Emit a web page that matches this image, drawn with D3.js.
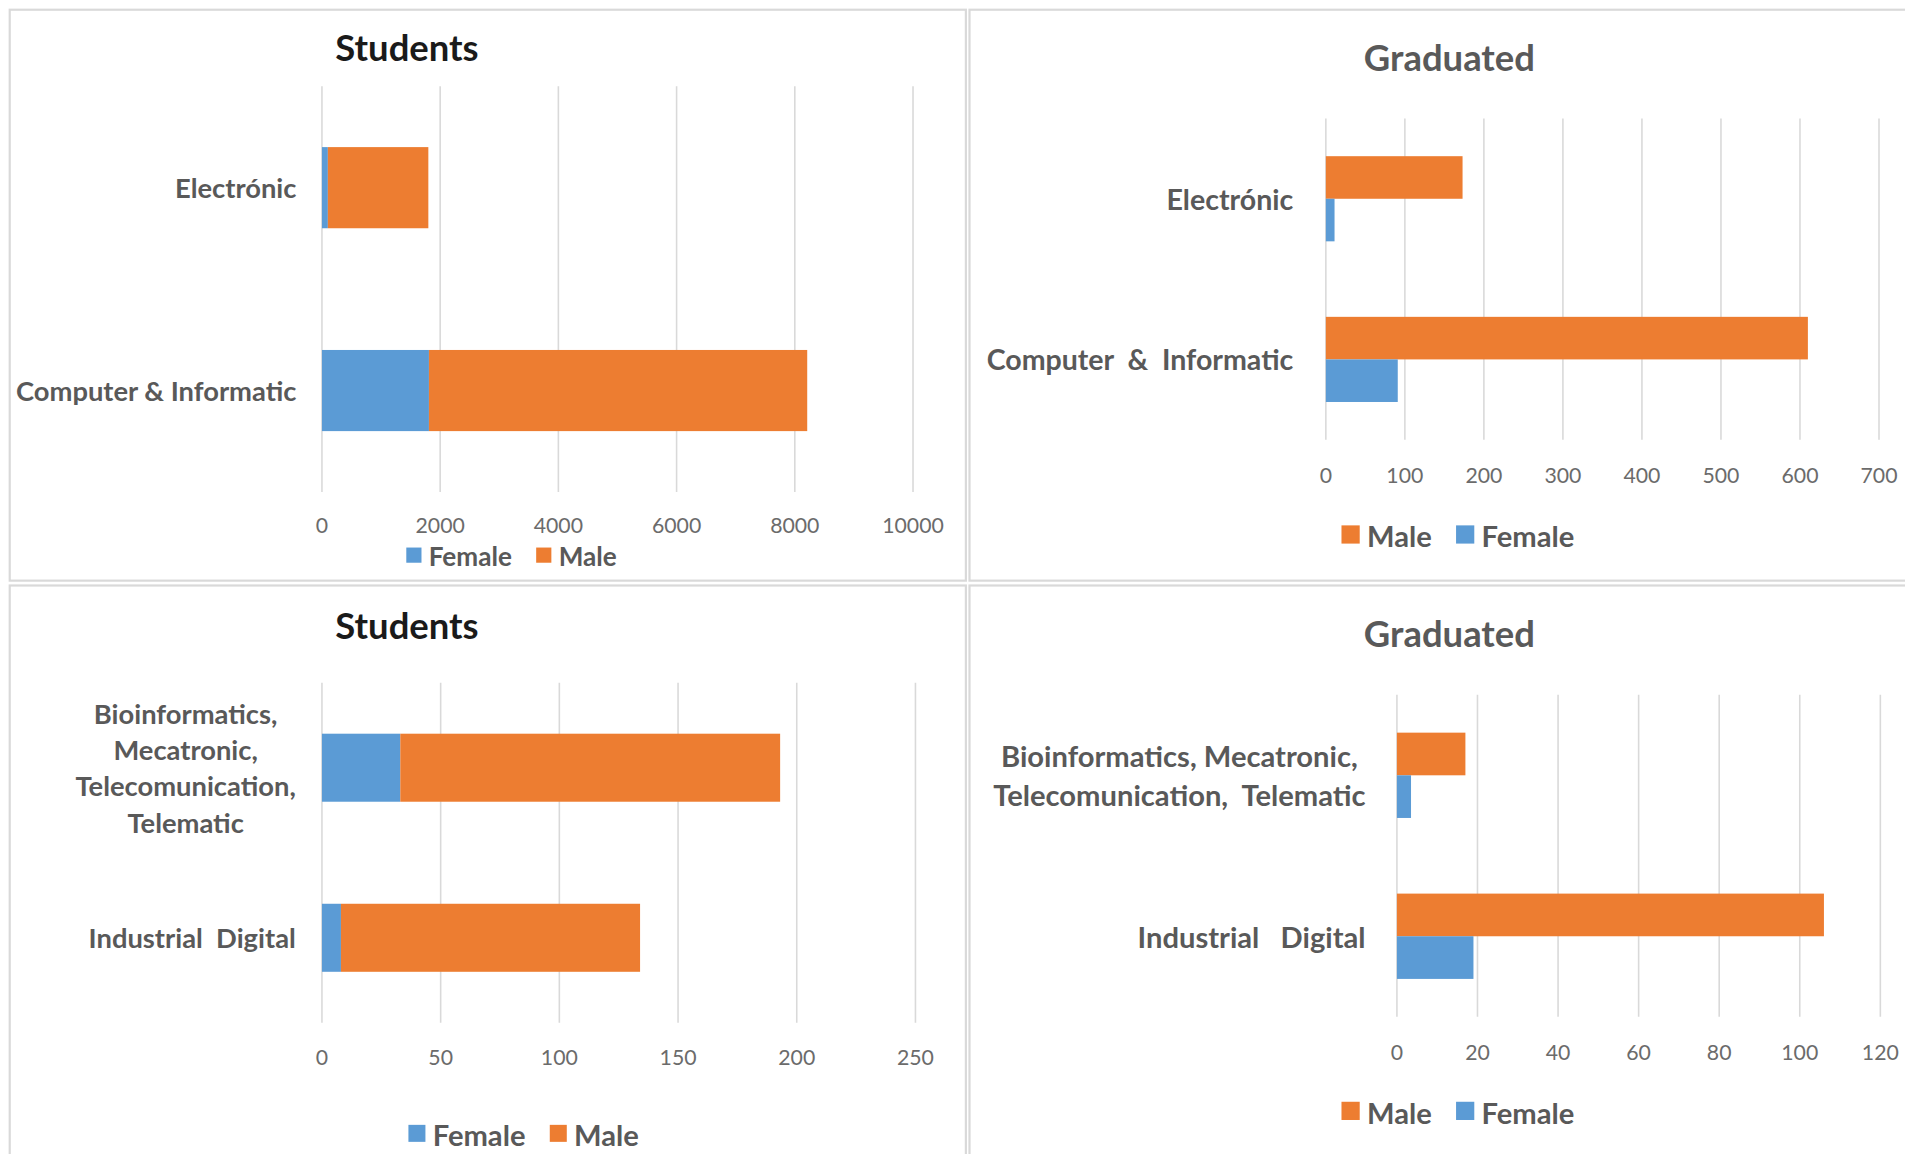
<!DOCTYPE html>
<html><head><meta charset="utf-8">
<script src="https://cdn.jsdelivr.net/npm/d3@7"></script>
<style>
html,body{margin:0;padding:0;background:#fff;overflow:hidden}
svg{display:block}
text{font-family:Lato,"Open Sans",sans-serif;white-space:pre}
</style></head><body>
<svg id="chart"></svg>
<script>
// ---------- data ----------
const cats1 = ["Electrónic", "Computer & Informatic"];
const students1Female = [100, 1810];
const students1Male = [1700, 6400];
const ticks1 = [0, 2000, 4000, 6000, 8000, 10000];

const cats2 = ["Electrónic", "Computer  &  Informatic"];
const grad1Male = [173, 610];
const grad1Female = [11, 91];
const ticks2 = [0, 100, 200, 300, 400, 500, 600, 700];

const cats3 = ["Bioinformatics,\nMecatronic,\nTelecomunication,\nTelematic", "Industrial  Digital"];
const students2Female = [33, 8];
const students2Male = [160, 126];
const ticks3 = [0, 50, 100, 150, 200, 250];

const cats4 = ["Bioinformatics, Mecatronic,\nTelecomunication,  Telematic", "Industrial   Digital"];
const grad2Male = [17, 106];
const grad2Female = [3.5, 19];
const ticks4 = [0, 20, 40, 60, 80, 100, 120];

const stackedOrder = ["Female", "Male"];
const groupedOrder = ["Male", "Female"];

// ---------- style ----------
const COLORS = {Female: "#5B9BD5", Male: "#ED7D31"};
const TEXT = "#595959";
const GRID = "#D9D9D9";

const svg = d3.select("#chart")
  .attr("width", 1905).attr("height", 1154)
  .attr("viewBox", "0 0 1568 950")
  .attr("preserveAspectRatio", "none");

// panel frames
const frames = [[8, 8, 787, 470], [798, 8, 790, 470], [8, 482, 787, 480], [798, 482, 790, 480]];
svg.selectAll("rect.frame").data(frames).join("rect")
  .attr("class", "frame")
  .attr("x", d => d[0]).attr("y", d => d[1]).attr("width", d => d[2]).attr("height", d => d[3])
  .attr("fill", "#fff").attr("stroke", GRID).attr("stroke-width", 1.8);

function drawPanel(cfg) {
  const g = svg.append("g");
  const x = d3.scaleLinear().domain([0, cfg.ticks[cfg.ticks.length - 1]]).range([cfg.x0, cfg.x1]);
  const y = d3.scaleBand().domain(cfg.cats).range([cfg.top, cfg.bottom])
    .paddingInner(cfg.padIn).paddingOuter(cfg.padOut);

  // gridlines
  g.append("g").selectAll("line").data(cfg.ticks).join("line")
    .attr("x1", d => x(d)).attr("x2", d => x(d))
    .attr("y1", cfg.top).attr("y2", cfg.bottom)
    .attr("stroke", GRID).attr("stroke-width", 1.3);

  // tick labels
  g.append("g").selectAll("text").data(cfg.ticks).join("text")
    .attr("x", d => x(d)).attr("y", cfg.bottom + cfg.tickOff)
    .attr("text-anchor", "middle").attr("dominant-baseline", "central")
    .attr("font-size", 17.5).attr("fill", "#6b6b6b")
    .text(d => d);

  // bars
  if (cfg.type === "stacked") {
    const rows = cfg.cats.map((c, i) => {
      const o = {cat: c};
      cfg.order.forEach(k => o[k] = cfg.values[k][i]);
      return o;
    });
    const stack = d3.stack().keys(cfg.order)(rows);
    g.append("g").selectAll("g").data(stack).join("g")
      .attr("fill", s => COLORS[s.key])
      .selectAll("rect").data(s => s).join("rect")
      .attr("x", d => x(d[0])).attr("width", d => x(d[1]) - x(d[0]))
      .attr("y", d => y(d.data.cat)).attr("height", y.bandwidth());
  } else {
    const y1 = d3.scaleBand().domain(cfg.order).range([0, y.bandwidth()]);
    const rows = [];
    cfg.cats.forEach((c, i) => cfg.order.forEach(k => rows.push({cat: c, key: k, v: cfg.values[k][i]})));
    g.append("g").selectAll("rect").data(rows).join("rect")
      .attr("fill", d => COLORS[d.key])
      .attr("x", x(0)).attr("width", d => x(d.v) - x(0))
      .attr("y", d => y(d.cat) + y1(d.key)).attr("height", y1.bandwidth());
  }

  // category labels
  cfg.cats.forEach(c => {
    const lines = c.split("\n");
    const cy = y(c) + y.bandwidth() / 2;
    const lg = g.append("g");
    const ts = lines.map((ln, i) => lg.append("text")
      .attr("y", cy + (i - (lines.length - 1) / 2) * cfg.lh)
      .attr("dominant-baseline", "central")
      .attr("font-size", cfg.catSize).attr("font-weight", 700).attr("fill", TEXT)
      .text(ln));
    if (lines.length === 1) {
      ts[0].attr("x", cfg.labelRight).attr("text-anchor", "end");
    } else {
      const mw = d3.max(ts, t => t.node().getComputedTextLength());
      ts.forEach(t => t.attr("x", cfg.labelRight - mw / 2).attr("text-anchor", "middle"));
    }
  });

  // title
  g.append("text").attr("x", cfg.titleX).attr("y", cfg.titleY)
    .attr("text-anchor", "middle").attr("dominant-baseline", "central")
    .attr("font-size", 30).attr("font-weight", 700).attr("fill", cfg.titleColor)
    .text(cfg.title);

  // legend
  const lg = g.append("g");
  const items = cfg.legend.map(k => {
    const t = lg.append("text").attr("font-size", cfg.legSize).attr("font-weight", 700)
      .attr("fill", TEXT).attr("dominant-baseline", "central").attr("y", cfg.legY).text(k);
    return {k, t, w: t.node().getComputedTextLength()};
  });
  const sq = cfg.legSq, gap = 6, itemGap = 20;
  const total = d3.sum(items, d => sq + gap + d.w) + itemGap * (items.length - 1);
  let cx = cfg.legX - total / 2;
  items.forEach(d => {
    lg.append("rect").attr("x", cx).attr("y", cfg.legY - sq / 2 - 1).attr("width", sq).attr("height", sq)
      .attr("fill", COLORS[d.k]);
    d.t.attr("x", cx + sq + gap);
    cx += sq + gap + d.w + itemGap;
  });
}

drawPanel({type: "stacked", cats: cats1, ticks: ticks1, order: stackedOrder,
  values: {Female: students1Female, Male: students1Male},
  x0: 265, x1: 751.5, top: 71, bottom: 405, padIn: 0.6, padOut: 0.3,
  tickOff: 27, labelRight: 244, catSize: 22.5, lh: 30,
  title: "Students", titleX: 335, titleY: 39, titleColor: "#1a1a1a",
  legend: ["Female", "Male"], legX: 421, legY: 458, legSize: 21.5, legSq: 12.5});

drawPanel({type: "grouped", cats: cats2, ticks: ticks2, order: groupedOrder,
  values: {Female: grad1Female, Male: grad1Male},
  x0: 1091.3, x1: 1546.6, top: 97.5, bottom: 362, padIn: 0.47, padOut: 0.235,
  tickOff: 29, labelRight: 1064.5, catSize: 23.5, lh: 32,
  title: "Graduated", titleX: 1193, titleY: 47, titleColor: TEXT,
  legend: ["Male", "Female"], legX: 1200, legY: 441, legSize: 24, legSq: 15});

drawPanel({type: "stacked", cats: cats3, ticks: ticks3, order: stackedOrder,
  values: {Female: students2Female, Male: students2Male},
  x0: 265, x1: 753.5, top: 562, bottom: 842, padIn: 0.6, padOut: 0.3,
  tickOff: 28, labelRight: 243.5, catSize: 22.5, lh: 30,
  title: "Students", titleX: 335, titleY: 514.5, titleColor: "#1a1a1a",
  legend: ["Female", "Male"], legX: 431, legY: 934, legSize: 24, legSq: 14});

drawPanel({type: "grouped", cats: cats4, ticks: ticks4, order: groupedOrder,
  values: {Female: grad2Female, Male: grad2Male},
  x0: 1149.8, x1: 1547.7, top: 572, bottom: 837, padIn: 0.47, padOut: 0.235,
  tickOff: 29, labelRight: 1124, catSize: 24, lh: 32,
  title: "Graduated", titleX: 1193, titleY: 521.5, titleColor: TEXT,
  legend: ["Male", "Female"], legX: 1200, legY: 915.5, legSize: 24, legSq: 15});
</script>
</body></html>
